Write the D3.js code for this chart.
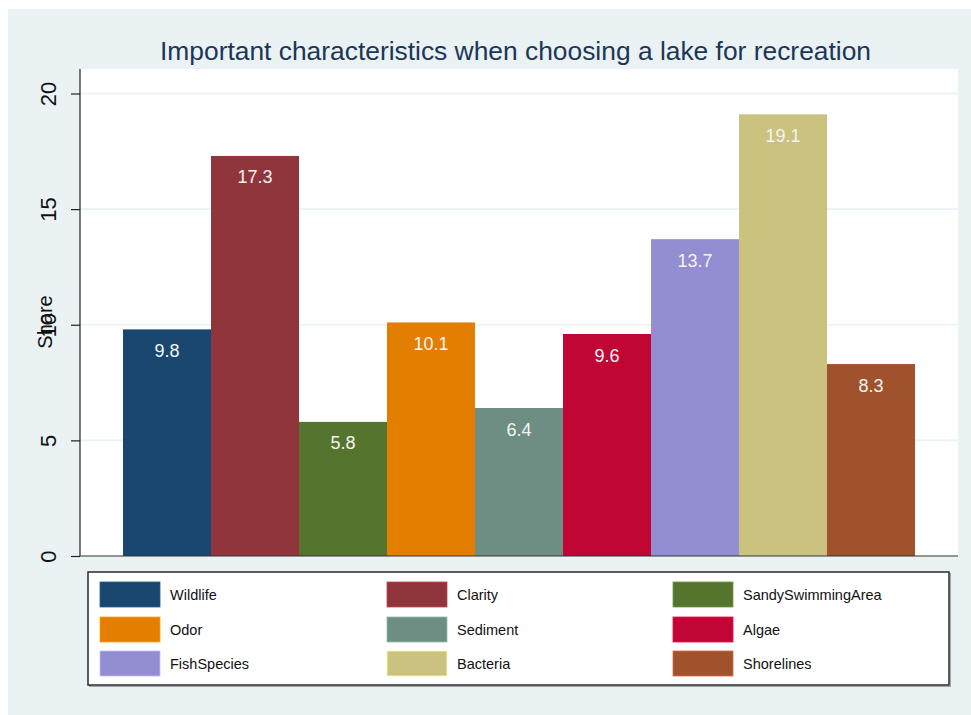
<!DOCTYPE html>
<html>
<head>
<meta charset="utf-8">
<script src="https://cdn.jsdelivr.net/npm/d3@7"></script>
<style>
  html, body { margin: 0; padding: 0; background: #ffffff; }
  svg { display: block; font-family: "Liberation Sans", Arial, sans-serif; }
</style>
</head>
<body>
<svg id="chart" width="971" height="715"></svg>
<script>
// Survey shares by lake characteristic
const categories = ["Wildlife", "Clarity", "SandySwimmingArea", "Odor", "Sediment",
                    "Algae", "FishSpecies", "Bacteria", "Shorelines"];
const shares = [9.8, 17.3, 5.8, 10.1, 6.4, 9.6, 13.7, 19.1, 8.3];
const barColors = ["#1a476f", "#90353b", "#55752f", "#e37e00", "#6e8e84",
                   "#c10534", "#938dd2", "#cac27e", "#a0522d"];
const yTicks = [0, 5, 10, 15, 20];
const titleText = "Important characteristics when choosing a lake for recreation";
const yTitle = "Share";

const svg = d3.select("#chart");
const bg = "#eaf2f3";

// outer graph region
svg.append("rect").attr("x", 8).attr("y", 9).attr("width", 963).attr("height", 706).attr("fill", bg);

// plot region
const plot = { left: 80, right: 958, top: 69, bottom: 556 };
svg.append("rect")
  .attr("x", plot.left).attr("y", plot.top)
  .attr("width", plot.right - plot.left).attr("height", plot.bottom - plot.top)
  .attr("fill", "#ffffff");

const y = d3.scaleLinear().domain([0, 20]).range([plot.bottom, 93.5]);
const x = d3.scaleBand().domain(categories).range([123, 915]).padding(0);

// gridlines
svg.append("g").selectAll("line")
  .data(yTicks.filter(t => t > 0))
  .join("line")
  .attr("x1", plot.left).attr("x2", plot.right)
  .attr("y1", d => y(d)).attr("y2", d => y(d))
  .attr("stroke", bg).attr("stroke-width", 1.6);

// bars
svg.append("g").selectAll("rect")
  .data(categories)
  .join("rect")
  .attr("x", d => x(d))
  .attr("y", (d, i) => y(shares[i]))
  .attr("width", x.bandwidth())
  .attr("height", (d, i) => y(0) - y(shares[i]))
  .attr("fill", (d, i) => barColors[i]);

// value labels inside bar tops
svg.append("g").selectAll("text")
  .data(categories)
  .join("text")
  .attr("x", d => x(d) + x.bandwidth() / 2)
  .attr("y", (d, i) => y(shares[i]) + 27.5)
  .attr("text-anchor", "middle")
  .attr("font-size", 18)
  .attr("fill", "#f4f4f4")
  .text((d, i) => shares[i].toFixed(1));

// y axis
const yAxis = d3.axisLeft(y).tickValues(yTicks).tickSize(9).tickPadding(0).tickFormat(d3.format("d"));
const gy = svg.append("g").attr("transform", `translate(${plot.left},0)`).call(yAxis);
gy.select(".domain").remove();
gy.selectAll(".tick line").attr("stroke", "#222").attr("stroke-width", 1.2);
gy.selectAll(".tick text")
  .attr("x", 0).attr("dy", null)
  .attr("transform", "translate(-24,0) rotate(-90)")
  .attr("text-anchor", "middle")
  .attr("font-size", 22)
  .attr("fill", "#111");

svg.append("line")
  .attr("x1", plot.left).attr("x2", plot.left)
  .attr("y1", plot.top).attr("y2", plot.bottom)
  .attr("stroke", "#222").attr("stroke-width", 1.2);
svg.append("line")
  .attr("x1", plot.left).attr("x2", plot.right)
  .attr("y1", plot.bottom).attr("y2", plot.bottom)
  .attr("stroke", "#333").attr("stroke-width", 1.2);

// y axis title
svg.append("text")
  .attr("transform", `translate(52,322) rotate(-90)`)
  .attr("text-anchor", "middle")
  .attr("font-size", 20)
  .attr("fill", "#111")
  .text(yTitle);

// chart title
svg.append("text")
  .attr("x", 515.5).attr("y", 59.5)
  .attr("text-anchor", "middle")
  .attr("font-size", 25.5)
  .attr("textLength", 711)
  .attr("lengthAdjust", "spacingAndGlyphs")
  .attr("fill", "#1c3658")
  .text(titleText);

// legend
const legend = { x: 88, y: 572, w: 861, h: 113 };
svg.append("rect")
  .attr("x", legend.x + 1.5).attr("y", legend.y + 1.5)
  .attr("width", legend.w).attr("height", legend.h)
  .attr("fill", "none").attr("stroke", "#9aa3a6").attr("stroke-width", 1);
svg.append("rect")
  .attr("x", legend.x).attr("y", legend.y)
  .attr("width", legend.w).attr("height", legend.h)
  .attr("fill", "#ffffff").attr("stroke", "#2a2a2a").attr("stroke-width", 1.5);

const colX = [100, 387, 673];
const rowY = [582, 617, 651];
const items = svg.append("g").selectAll("g")
  .data(categories)
  .join("g")
  .attr("transform", (d, i) => `translate(${colX[i % 3]},${rowY[Math.floor(i / 3)]})`);
items.append("rect")
  .attr("width", 60).attr("height", 25)
  .attr("fill", (d, i) => barColors[i])
  .attr("stroke", (d, i) => d3.color(barColors[i]).brighter(0.8))
  .attr("stroke-width", 0.8);
items.append("text")
  .attr("x", 70).attr("y", 18)
  .attr("font-size", 14.5)
  .attr("fill", "#111")
  .text(d => d);
</script>
</body>
</html>
